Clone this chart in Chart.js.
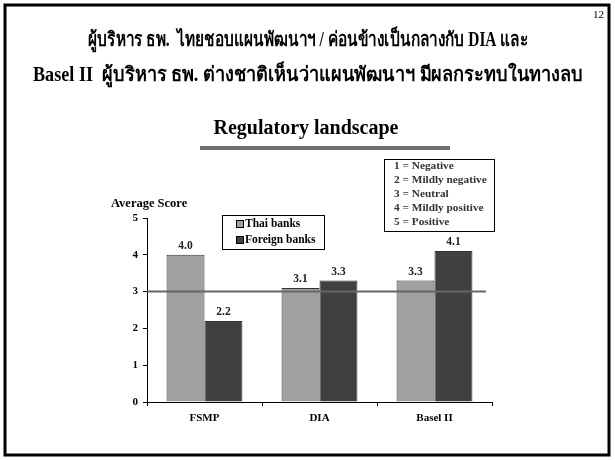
<!DOCTYPE html>
<html>
<head>
<meta charset="utf-8">
<script src="https://cdn.jsdelivr.net/npm/chart.js@4"></script>
<style>
  html, body { margin: 0; padding: 0; background: #fff; }
  #wrap { width: 615px; height: 460px; }
</style>
</head>
<body>
<div id="wrap"><canvas id="chart" width="615" height="460"></canvas></div>
<script>
(() => {
  const SERIF = '"Liberation Serif", "Times New Roman", serif';

  // data
  const categories = ["FSMP", "DIA", "Basel II"];
  const thaiBanks = [4.0, 3.1, 3.3];
  const foreignBanks = [2.2, 3.3, 4.1];
  const seriesNames = ["Thai banks", "Foreign banks"];
  const yTicks = [0, 1, 2, 3, 4, 5];
  const neutralLevel = 3;
  const scaleKey = [
    "1 = Negative",
    "2 = Mildly negative",
    "3 = Neutral",
    "4 = Mildly positive",
    "5 = Positive",
  ];
  const titleLines = [
    "ผู้บริหาร ธพ.  ไทยชอบแผนพัฒนาฯ / ค่อนข้างเป็นกลางกับ DIA และ",
    "Basel II  ผู้บริหาร ธพ. ต่างชาติเห็นว่าแผนพัฒนาฯ มีผลกระทบในทางลบ",
  ];
  const chartTitle = "Regulatory landscape";
  const yTitle = "Average Score";
  const pageNo = "12";

  const colors = ["#a0a0a0", "#404040"];

  /* slide frame, headings, key boxes, value labels, neutral line */
  const decor = {
    id: "decor",
    beforeDraw(chart) {
      const c = chart.ctx;
      c.save();
      c.fillStyle = "#fff";
      c.fillRect(0, 0, chart.width, chart.height);
      c.restore();
    },
    afterDraw(chart) {
      const c = chart.ctx;
      const y = chart.scales.y;
      const area = chart.chartArea;
      c.save();

      // outer frame
      c.strokeStyle = "#000";
      c.lineWidth = 3;
      c.strokeRect(5, 5, 604, 450);

      // page number
      c.fillStyle = "#000";
      c.font = `11px ${SERIF}`;
      c.textAlign = "right";
      c.textBaseline = "middle";
      c.fillText(pageNo, 604, 15);

      // slide title (squeezed to the slide's line widths)
      c.font = `bold 20px ${SERIF}`;
      c.textAlign = "center";
      c.fillText(titleLines[0], 308, 41, 440);
      c.fillText(titleLines[1], 308, 76, 550);

      // chart title + rule
      c.font = `bold 20px ${SERIF}`;
      c.fillText(chartTitle, 306, 129);
      c.fillStyle = "#707070";
      c.fillRect(200, 146, 250, 4);

      // y axis title
      c.fillStyle = "#000";
      c.font = `bold 12.5px ${SERIF}`;
      c.textAlign = "left";
      c.fillText(yTitle, 111, 204);

      // neutral reference line
      const yn = y.getPixelForValue(neutralLevel);
      c.strokeStyle = "#666";
      c.lineWidth = 2;
      c.beginPath();
      c.moveTo(area.left, yn);
      c.lineTo(486, yn);
      c.stroke();

      // value labels
      c.fillStyle = "#222";
      c.font = `bold 11.5px ${SERIF}`;
      c.textAlign = "center";
      c.textBaseline = "bottom";
      chart.data.datasets.forEach((ds, i) => {
        chart.getDatasetMeta(i).data.forEach((bar, j) => {
          c.fillText(ds.data[j].toFixed(1), bar.x, bar.y - 3);
        });
      });

      // series legend box
      c.strokeStyle = "#000";
      c.lineWidth = 1;
      c.strokeRect(222.5, 215.5, 102, 34);
      c.textBaseline = "middle";
      c.textAlign = "left";
      chart.data.datasets.forEach((ds, i) => {
        const ly = 224 + i * 16;
        c.fillStyle = ds.backgroundColor;
        c.fillRect(236, ly - 4, 8, 8);
        c.strokeStyle = "#000";
        c.strokeRect(236.5, ly - 3.5, 7, 7);
        c.fillStyle = "#000";
        c.font = `bold 11.5px ${SERIF}`;
        c.fillText(ds.label, 245, ly);
      });

      // score key box
      c.strokeStyle = "#000";
      c.strokeRect(384.5, 159.5, 110, 72);
      c.fillStyle = "#333";
      c.font = `bold 11.3px ${SERIF}`;
      scaleKey.forEach((t, i) => c.fillText(t, 394, 166 + i * 14));

      c.restore();
    },
  };

  new Chart(document.getElementById("chart"), {
    type: "bar",
    data: {
      labels: categories,
      datasets: [
        { label: seriesNames[0], data: thaiBanks, backgroundColor: colors[0] },
        { label: seriesNames[1], data: foreignBanks, backgroundColor: colors[1] },
      ].map(ds => ({
        ...ds,
        borderColor: "#333",
        borderWidth: 1,
        categoryPercentage: 0.66,
        barPercentage: 1.0,
      })),
    },
    options: {
      responsive: false,
      animation: false,
      devicePixelRatio: 1,
      layout: { padding: { left: 0, top: 218, right: 123, bottom: 28 } },
      plugins: { legend: { display: false }, tooltip: { enabled: false } },
      scales: {
        x: {
          afterFit: s => { s.height = 30; },
          border: { color: "#000", width: 1 },
          grid: { drawOnChartArea: false, tickLength: 4, color: "#000", offset: true },
          ticks: { color: "#000", font: { family: SERIF, size: 11, weight: "bold" }, padding: 6 },
        },
        y: {
          min: 0,
          max: 5,
          afterFit: s => { s.width = 147; },
          afterBuildTicks: s => { s.ticks = yTicks.map(v => ({ value: v })); },
          border: { color: "#000", width: 1 },
          grid: { drawOnChartArea: false, tickLength: 4, color: "#000" },
          ticks: { color: "#000", font: { family: SERIF, size: 11, weight: "bold" }, padding: 5 },
        },
      },
    },
    plugins: [decor],
  });
})();
</script>
</body>
</html>
